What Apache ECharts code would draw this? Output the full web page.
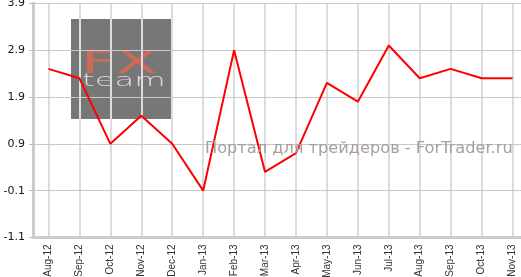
<!DOCTYPE html>
<html><head><meta charset="utf-8">
<script src="https://cdn.jsdelivr.net/npm/echarts@6/dist/echarts.min.js"></script>
<style>html,body{margin:0;padding:0;background:#fff}#c{width:521px;height:277px}</style>
</head><body><div id="c"></div>
<script>
const categories = ['Aug-12','Sep-12','Oct-12','Nov-12','Dec-12','Jan-13','Feb-13','Mar-13','Apr-13','May-13','Jun-13','Jul-13','Aug-13','Sep-13','Oct-13','Nov-13'];
const values = [2.5, 2.3, 0.9, 1.5, 0.9, -0.1, 2.9, 0.3, 0.7, 2.2, 1.8, 3.0, 2.3, 2.5, 2.3, 2.3];
const yMin = -1.1, yMax = 3.9, yStep = 1;

// half-step positions used only to place vertical grid lines at category centres
const halfSteps = Array.from({length: categories.length * 2 + 1}, (_, i) => String(i));

const chart = echarts.init(document.getElementById('c'), null, {renderer: 'canvas'});
chart.setOption({
  animation: false,
  grid: {left: 33, right: -7, top: 3.3, bottom: 39.5, outerBoundsMode: 'none', containLabel: false},
  xAxis: [{
    type: 'category', data: categories, boundaryGap: true, z: 2,
    axisLine: {onZero: false, lineStyle: {color: '#cccccc', width: 3}},
    axisTick: {alignWithLabel: true, interval: 0, length: 4, lineStyle: {color: '#bbbbbb'}},
    axisLabel: {rotate: 90, interval: 0, margin: 7, fontSize: 10, fontFamily: 'Liberation Sans, Arial', color: '#333'},
    splitLine: {show: false}
  }, {
    type: 'category', data: halfSteps, boundaryGap: false, position: 'bottom', z: 0,
    axisLine: {show: false}, axisTick: {show: false}, axisLabel: {show: false},
    axisPointer: {show: false},
    splitLine: {show: true, interval: (i) => i % 2 === 1, lineStyle: {color: '#dcdcdc', width: 2}}
  }],
  yAxis: {
    type: 'value', min: yMin, max: yMax, interval: yStep, z: 1,
    axisLine: {show: true, onZero: false, lineStyle: {color: '#cccccc', width: 3}},
    axisTick: {show: true, length: 4, lineStyle: {color: '#bbbbbb'}},
    axisLabel: {margin: 8, fontSize: 11, fontFamily: 'DejaVu Sans, Verdana', color: '#111133',
      formatter: v => (Math.round(v * 10) / 10).toFixed(1)},
    splitLine: {show: true, lineStyle: {color: '#c8c8c8', width: 1}}
  },
  graphic: [
    {type: 'rect', z: -1, shape: {x: 71, y: 19, width: 100, height: 100}, style: {fill: '#777777'}},
    {type: 'text', z: -1, x: 81, y: 49, scaleX: 1.9, style: {text: 'FX', fontSize: 32, fontWeight: 'normal', fontFamily: 'DejaVu Sans', fill: '#cf6a55'}},
    {type: 'text', z: -1, x: 82, y: 73, scaleX: 1.9, style: {text: 'team', fontSize: 17, fontWeight: 300, fontFamily: 'DejaVu Sans', fill: '#dddddd'}},
    {type: 'text', z: 10, x: 205, y: 141, style: {text: 'Портал для трейдеров - ForTrader.ru', fontSize: 16.2, fontFamily: 'DejaVu Sans', fill: '#a89e9e'}}
  ],
  series: [
    {type: 'line', data: values, xAxisIndex: 0, z: 3, showSymbol: false, symbol: 'none',
      lineStyle: {color: '#ff0000', width: 2}}
  ]
});
</script></body></html>
